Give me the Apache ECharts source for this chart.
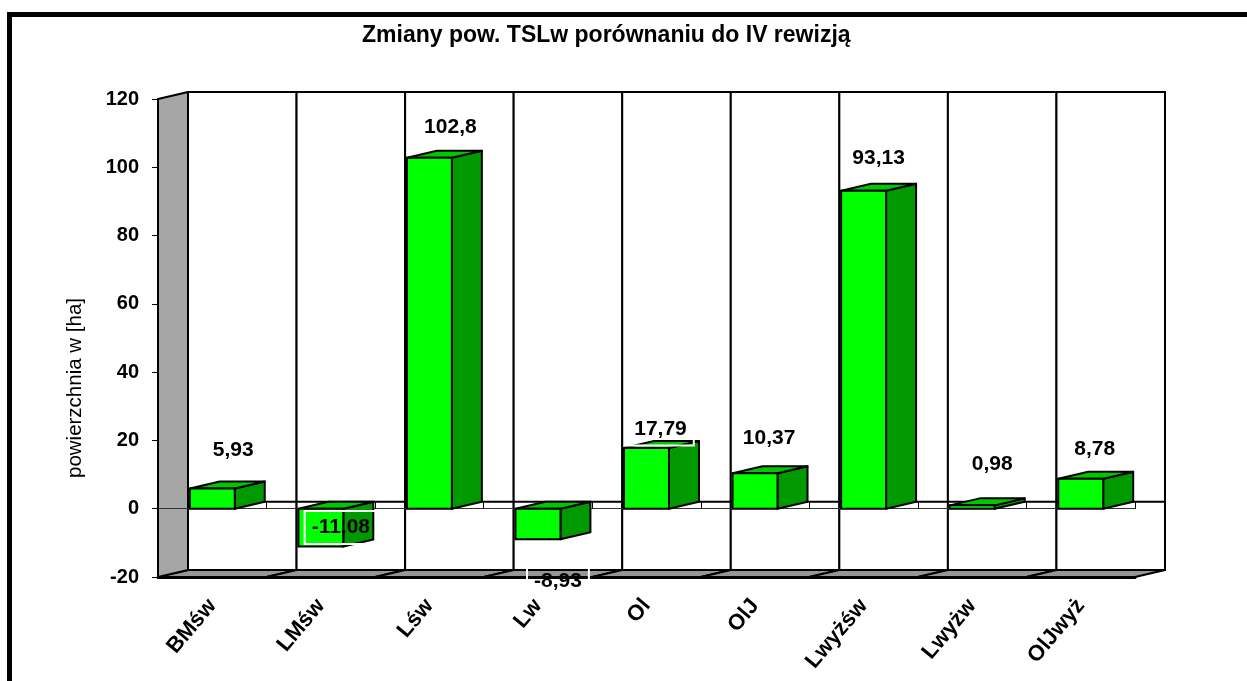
<!DOCTYPE html>
<html>
<head>
<meta charset="utf-8">
<script src="https://cdn.jsdelivr.net/npm/echarts@6/dist/echarts.min.js"></script>
<style>
  html, body { margin: 0; padding: 0; background: #fff; overflow: hidden; }
  #chart { width: 1247px; height: 681px; }
</style>
</head>
<body>
<div id="chart"></div>
<script>
const categories = ['BMśw', 'LMśw', 'Lśw', 'Lw', 'Ol', 'OlJ', 'Lwyżśw', 'Lwyżw', 'OlJwyż'];
const values = [5.93, -11.08, 102.8, -8.93, 17.79, 10.37, 93.13, 0.98, 8.78];

// the 3d look: how far the back wall sits from the front plane
const DX = 30;
const DY = -7;
const BAR_RATIO = 0.414;
const FONT = '"Liberation Sans", Arial, sans-serif';
// labels were dragged by hand in the original, px from the bar end
const labelShift = [[21, -38], [20, -19], [21, -31], [20, 42], [14, -19], [14, -35], [15, -33], [20, -41], [14, -30]];

const chart = echarts.init(document.getElementById('chart'));

function poly(points, fill) {
  return {
    type: 'polygon',
    shape: { points },
    style: { fill, stroke: '#000', lineWidth: 2, lineJoin: 'round' }
  };
}

// back wall, floor and left wall, one cell per category
function renderFrame(params, api) {
  const i = api.value(0);
  const w = api.size([1, 0])[0];
  const top = api.coord([i, 120]);
  const zero = api.coord([i, 0]);
  const bottom = api.coord([i, -20]);
  const l = top[0] - w / 2;
  const r = top[0] + w / 2;
  const children = [
    {
      type: 'rect',
      shape: { x: l + DX, y: top[1] + DY, width: w, height: bottom[1] - top[1] },
      style: { fill: '#fff', stroke: '#000', lineWidth: 2 }
    },
    {
      type: 'line',
      shape: { x1: l + DX, y1: zero[1] + DY, x2: r + DX, y2: zero[1] + DY },
      style: { stroke: '#000', lineWidth: 2 }
    },
    poly([[l, bottom[1]], [l + DX, bottom[1] + DY], [r + DX, bottom[1] + DY], [r, bottom[1]]], '#969696')
  ];
  if (i === 0) {
    children.push(poly([[l, top[1]], [l + DX, top[1] + DY], [l + DX, bottom[1] + DY], [l, bottom[1]]], '#a6a6a6'));
  }
  return { type: 'group', children };
}

function renderBar(params, api) {
  const i = api.value(0);
  const end = api.coord([i, api.value(1)]);
  const zero = api.coord([i, 0]);
  const w = api.size([1, 0])[0] * BAR_RATIO;
  const l = end[0] - w / 2;
  const r = end[0] + w / 2;
  const up = Math.min(end[1], zero[1]);
  const down = Math.max(end[1], zero[1]);
  return {
    type: 'group',
    children: [
      poly([[r, up], [r + DX, up + DY], [r + DX, down + DY], [r, down]], '#009900'),
      poly([[l, up], [l + DX, up + DY], [r + DX, up + DY], [r, up]], '#00c800'),
      {
        type: 'rect',
        shape: { x: l, y: up, width: w, height: down - up },
        style: { fill: '#00ff00', stroke: '#000', lineWidth: 2 }
      }
    ]
  };
}

function renderLabel(params, api) {
  const i = api.value(0);
  const v = api.value(1);
  const end = api.coord([i, v]);
  return {
    type: 'text',
    style: {
      text: String(v).replace('.', ','),
      x: end[0] + labelShift[i][0],
      y: end[1] + labelShift[i][1],
      align: 'center',
      verticalAlign: 'middle',
      font: 'bold 21px ' + FONT,
      fill: '#000',
      borderColor: '#fff',
      borderWidth: 2,
      padding: [6, 7]
    }
  };
}

const seriesData = values.map((v, i) => [i, v]);

chart.setOption({
  animation: false,
  backgroundColor: '#fff',
  title: {
    text: 'Zmiany pow. TSLw porównaniu do IV rewizją',
    left: 362,
    top: 24,
    padding: 0,
    textStyle: { fontFamily: FONT, fontWeight: 'bold', fontSize: 23, color: '#000' }
  },
  grid: { left: 158, right: 112, top: 99, bottom: 104 },
  xAxis: [
    {
      type: 'category',
      data: categories,
      z: 1,
      axisLine: { onZero: false, lineStyle: { color: '#000', width: 3 } },
      axisTick: { show: false },
      axisLabel: {
        rotate: 50,
        interval: 0,
        margin: 25,
        color: '#000',
        fontFamily: FONT,
        fontWeight: 'bold',
        fontSize: 22
      }
    },
    {
      type: 'category',
      data: categories,
      z: 1,
      axisLine: { onZero: true, lineStyle: { color: '#333', width: 1 } },
      axisTick: { show: true, alignWithLabel: false, length: 7, lineStyle: { color: '#000', width: 1 } },
      axisLabel: { show: false }
    }
  ],
  yAxis: {
    type: 'value',
    min: -20,
    max: 120,
    interval: 20,
    z: 1,
    axisLine: { show: true, lineStyle: { color: '#000', width: 2 } },
    axisTick: { show: true, length: 6, lineStyle: { color: '#000', width: 1 } },
    splitLine: { show: false },
    axisLabel: {
      margin: 19,
      color: '#000',
      fontFamily: FONT,
      fontWeight: 'bold',
      fontSize: 20
    }
  },
  graphic: [
    {
      // only the top and left of the outer border are in the picture
      type: 'rect',
      shape: { x: 9.5, y: 14.5, width: 1400, height: 800 },
      style: { fill: 'transparent', stroke: '#000', lineWidth: 5 },
      z: 10
    },
    {
      type: 'text',
      x: 75,
      y: 388,
      rotation: Math.PI / 2,
      style: {
        text: 'powierzchnia w [ha]',
        align: 'center',
        verticalAlign: 'middle',
        font: '20.5px ' + FONT,
        fill: '#000'
      },
      z: 10
    }
  ],
  series: [
    { type: 'custom', z: 0, silent: true, renderItem: renderFrame, data: seriesData },
    { type: 'custom', z: 2, silent: true, renderItem: renderBar, data: seriesData },
    { type: 'custom', z: 3, silent: true, renderItem: renderLabel, data: seriesData }
  ]
});
</script>
</body>
</html>
